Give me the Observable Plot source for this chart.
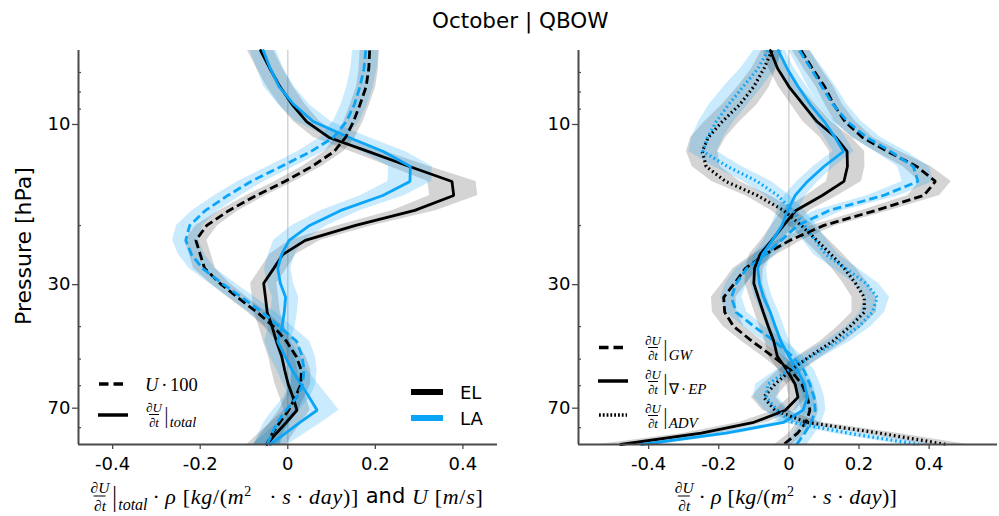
<!DOCTYPE html>
<html><head><meta charset="utf-8">
<script src="https://cdn.jsdelivr.net/npm/d3@7"></script>
<script src="https://cdn.jsdelivr.net/npm/@observablehq/plot@0.6"></script>
<style>
body{margin:0;background:#fff;}
#root{position:relative;width:999px;height:516px;overflow:hidden;font-family:"DejaVu Sans",sans-serif;color:#000;}
#root svg{position:absolute;top:0;}
.abs{position:absolute;white-space:nowrap;display:flex;align-items:center;line-height:1;}
.m{font-family:"Liberation Serif",serif;font-style:italic;}
.u{font-family:"Liberation Serif",serif;font-style:normal;}
.fr{display:inline-flex;flex-direction:column;align-items:center;line-height:1.0;}
.fr .d{border-top:1px solid #000;padding-top:1px;}
.op{margin:0 0.22em;font-family:"Liberation Serif",serif;font-style:normal;}
</style></head><body><div id="root"></div><script>
// ---------- data (pressure levels in hPa) ----------
const pressure = [6.02, 6.81, 7.71, 8.72, 9.80, 10.93, 12.03, 13.34, 14.78, 16.27, 18.03, 19.98, 22.14, 24.37, 26.83, 29.73, 32.73, 36.26, 39.92, 44.24, 49.03, 53.97, 59.41, 64.94, 71.0, 77.1, 83.1, 89.8];

// left panel: dU/dt|total * rho and U/100
const totalEL = [-0.062, -0.041, -0.018, 0.010, 0.043, 0.094, 0.183, 0.278, 0.375, 0.379, 0.290, 0.155, 0.040, -0.011, -0.032, -0.055, -0.051, -0.047, -0.036, -0.026, -0.014, -0.007, 0.001, 0.012, 0.021, -0.003, -0.026, -0.048];
const totalLA = [-0.056, -0.040, -0.020, 0.014, 0.058, 0.140, 0.218, 0.280, 0.279, 0.217, 0.121, 0.050, 0.003, -0.014, -0.023, -0.017, -0.005, -0.008, -0.013, -0.023, -0.006, 0.010, 0.030, 0.049, 0.067, 0.028, -0.005, -0.040];
const uEL = [0.187, 0.185, 0.179, 0.165, 0.150, 0.132, 0.106, 0.055, -0.007, -0.072, -0.134, -0.185, -0.210, -0.200, -0.190, -0.155, -0.115, -0.070, -0.033, -0.003, 0.019, 0.031, 0.030, 0.017, 0.002, -0.018, -0.035, -0.048];
const uLA = [0.178, 0.174, 0.165, 0.152, 0.134, 0.104, 0.053, -0.015, -0.084, -0.137, -0.188, -0.224, -0.233, -0.220, -0.195, -0.150, -0.105, -0.058, -0.020, 0.020, 0.033, 0.037, 0.034, 0.021, -0.004, -0.024, -0.036, -0.047];
const errTotalEL = [0.03, 0.03, 0.03, 0.03, 0.03, 0.035, 0.04, 0.045, 0.055, 0.055, 0.05, 0.04, 0.035, 0.03, 0.03, 0.03, 0.03, 0.03, 0.03, 0.03, 0.03, 0.03, 0.03, 0.03, 0.03, 0.035, 0.04, 0.045];
const errTotalLA = [0.03, 0.03, 0.035, 0.035, 0.04, 0.045, 0.05, 0.05, 0.05, 0.05, 0.045, 0.04, 0.035, 0.03, 0.03, 0.03, 0.03, 0.03, 0.03, 0.03, 0.035, 0.035, 0.04, 0.045, 0.05, 0.05, 0.045, 0.04];
const errUEL = [0.022, 0.022, 0.022, 0.022, 0.022, 0.022, 0.022, 0.022, 0.022, 0.022, 0.022, 0.025, 0.025, 0.025, 0.025, 0.022, 0.022, 0.022, 0.022, 0.022, 0.022, 0.022, 0.022, 0.022, 0.022, 0.022, 0.025, 0.03];
const errULA = [0.03, 0.03, 0.03, 0.03, 0.03, 0.03, 0.03, 0.03, 0.03, 0.03, 0.03, 0.03, 0.03, 0.03, 0.03, 0.03, 0.03, 0.03, 0.03, 0.03, 0.03, 0.03, 0.03, 0.03, 0.03, 0.03, 0.03, 0.03];

// right panel: GW, EP-flux divergence, advection
const gwEL = [0.035, 0.067, 0.102, 0.128, 0.160, 0.210, 0.281, 0.365, 0.418, 0.385, 0.248, 0.100, 0.003, -0.068, -0.124, -0.155, -0.186, -0.183, -0.158, -0.105, -0.046, 0.005, 0.037, 0.053, 0.060, 0.049, 0.025, -0.015];
const gwLA = [0.030, 0.063, 0.094, 0.126, 0.167, 0.222, 0.290, 0.355, 0.368, 0.270, 0.116, 0.025, -0.022, -0.067, -0.120, -0.150, -0.164, -0.150, -0.100, -0.041, 0.010, 0.043, 0.060, 0.072, 0.075, 0.064, 0.045, 0.022];
const epEL = [-0.053, -0.032, 0.000, 0.041, 0.080, 0.134, 0.166, 0.167, 0.157, 0.095, 0.020, -0.015, -0.049, -0.082, -0.098, -0.100, -0.087, -0.073, -0.059, -0.043, -0.033, -0.005, 0.018, 0.026, -0.010, -0.100, -0.250, -0.480];
const epLA = [-0.030, -0.005, 0.026, 0.061, 0.101, 0.132, 0.156, 0.100, 0.053, 0.018, -0.003, -0.020, -0.047, -0.075, -0.089, -0.084, -0.072, -0.053, -0.039, -0.023, 0.000, 0.024, 0.045, 0.053, 0.040, -0.015, -0.180, -0.420];
const advEL = [-0.048, -0.071, -0.100, -0.140, -0.190, -0.230, -0.247, -0.236, -0.180, -0.090, -0.015, 0.035, 0.080, 0.120, 0.158, 0.190, 0.215, 0.215, 0.175, 0.125, 0.060, 0.005, -0.040, -0.072, -0.040, 0.050, 0.260, 0.450];
const advLA = [-0.060, -0.088, -0.130, -0.172, -0.207, -0.232, -0.245, -0.175, -0.090, -0.032, 0.010, 0.045, 0.075, 0.105, 0.162, 0.220, 0.252, 0.238, 0.200, 0.140, 0.065, -0.002, -0.060, -0.065, -0.033, 0.010, 0.170, 0.370];
const errGwEL = [0.025, 0.025, 0.025, 0.025, 0.03, 0.03, 0.035, 0.04, 0.045, 0.045, 0.04, 0.035, 0.035, 0.035, 0.035, 0.035, 0.035, 0.035, 0.03, 0.03, 0.03, 0.03, 0.025, 0.025, 0.025, 0.025, 0.025, 0.025];
const errGwLA = [0.03, 0.035, 0.04, 0.04, 0.04, 0.04, 0.045, 0.045, 0.045, 0.045, 0.04, 0.035, 0.03, 0.03, 0.03, 0.03, 0.03, 0.03, 0.03, 0.03, 0.03, 0.03, 0.03, 0.03, 0.03, 0.03, 0.03, 0.03];
const errEpEL = [0.02, 0.025, 0.03, 0.035, 0.04, 0.045, 0.05, 0.05, 0.05, 0.045, 0.04, 0.035, 0.03, 0.03, 0.025, 0.025, 0.025, 0.025, 0.025, 0.025, 0.025, 0.025, 0.025, 0.025, 0.03, 0.04, 0.05, 0.06];
const errEpLA = [0.02, 0.02, 0.025, 0.025, 0.03, 0.03, 0.03, 0.03, 0.03, 0.03, 0.03, 0.03, 0.025, 0.025, 0.025, 0.025, 0.025, 0.025, 0.025, 0.025, 0.025, 0.025, 0.025, 0.025, 0.025, 0.03, 0.04, 0.05];
const errAdvEL = [0.03, 0.035, 0.045, 0.05, 0.05, 0.05, 0.045, 0.04, 0.04, 0.035, 0.035, 0.035, 0.035, 0.035, 0.035, 0.035, 0.035, 0.035, 0.035, 0.035, 0.035, 0.035, 0.035, 0.035, 0.035, 0.04, 0.05, 0.06];
const errAdvLA = [0.04, 0.05, 0.055, 0.055, 0.05, 0.045, 0.04, 0.04, 0.04, 0.035, 0.035, 0.035, 0.035, 0.035, 0.035, 0.035, 0.035, 0.035, 0.035, 0.035, 0.035, 0.035, 0.035, 0.035, 0.035, 0.035, 0.045, 0.05];

const xTicks = [-0.4, -0.2, 0, 0.2, 0.4];
const yTicks = [10, 30, 70];
const yMinor = [7, 8, 9, 20, 40, 50, 60, 80];
const yDomain = [6.02, 89.8];

// ---------- styling ----------
const BLACK = "#000000", BLUE = "#0ba5f8", AXIS = "#4a4a4a";
const DASH = "8.5,4", DOT = "1.7,2.9";

function rows(vals, errs) {
  return pressure.map((p, i) => ({p, v: vals[i], lo: vals[i] - errs[i], hi: vals[i] + errs[i]}));
}

function panel(series, xDomain) {
  const bands = series.map(s => Plot.areaX(rows(s.v, s.e), {
    y: "p", x1: "lo", x2: "hi", fill: s.color, fillOpacity: s.color === BLUE ? 0.22 : 0.17
  }));
  const lines = series.map(s => Plot.line(rows(s.v, s.e), {
    x: "v", y: "p", stroke: s.color, strokeWidth: s.dash === DOT ? 3.2 : 2.8,
    strokeDasharray: s.dash, strokeLinecap: s.dash ? "butt" : "round", strokeLinejoin: "miter"
  }));
  return Plot.plot({
    width: 500, height: 516,
    marginLeft: 78, marginRight: 3, marginTop: 50, marginBottom: 72,
    style: {fontFamily: "DejaVu Sans", fontSize: "18px", color: "#000", background: "transparent", overflow: "visible"},
    x: {domain: xDomain},
    y: {type: "log", domain: yDomain, reverse: true},
    marks: [
      Plot.ruleX([0], {stroke: "#d4d4d4", strokeWidth: 1.5}),
      ...bands,
      ...lines,
      Plot.axisX({ticks: xTicks, tickSize: 5, tickPadding: 8, stroke: AXIS, strokeWidth: 1.3,
        tickFormat: d => d === 0 ? "0" : d.toFixed(1), label: null}),
      Plot.axisY({ticks: yTicks, tickSize: 6, tickPadding: 2, stroke: AXIS, strokeWidth: 1.3,
        tickFormat: d => String(d), label: null}),
      Plot.tickY(yMinor, {y: d => d, insetRight: 416, stroke: AXIS, strokeWidth: 1.2}),
      Plot.ruleX([xDomain[0]], {stroke: AXIS, strokeWidth: 2}),
      Plot.ruleY([yDomain[1]], {stroke: AXIS, strokeWidth: 2})
    ]
  });
}

const root = document.getElementById("root");

const left = panel([
  {v: totalEL, e: errTotalEL, color: BLACK, dash: null},
  {v: totalLA, e: errTotalLA, color: BLUE, dash: null},
  {v: uEL, e: errUEL, color: BLACK, dash: DASH},
  {v: uLA, e: errULA, color: BLUE, dash: DASH}
], [-0.478, 0.479]);
left.style.left = "0px";
root.appendChild(left);

const right = panel([
  {v: gwEL, e: errGwEL, color: BLACK, dash: DASH},
  {v: gwLA, e: errGwLA, color: BLUE, dash: DASH},
  {v: epEL, e: errEpEL, color: BLACK, dash: null},
  {v: epLA, e: errEpLA, color: BLUE, dash: null},
  {v: advEL, e: errAdvEL, color: BLACK, dash: DOT},
  {v: advLA, e: errAdvLA, color: BLUE, dash: DOT}
], [-0.6, 0.595]);
right.style.left = "500px";
root.appendChild(right);

// ---------- legend swatches ----------
const ov = d3.select(root).append("svg").attr("width", 999).attr("height", 516).style("left", "0px");
function sw(x1, x2, y, color, w, dash) {
  ov.append("line").attr("x1", x1).attr("x2", x2).attr("y1", y).attr("y2", y)
    .attr("stroke", color).attr("stroke-width", w).attr("stroke-dasharray", dash || null);
}
sw(99, 124, 384, BLACK, 3.5, "9.5,5");
sw(98, 128, 415, BLACK, 3.5);
sw(411, 443, 392, BLACK, 6);
sw(411, 443, 418, BLUE, 6);
sw(599, 625, 347.5, BLACK, 3.5, "9.5,5");
sw(598, 628, 381, BLACK, 3.5);
sw(599, 627, 415, BLACK, 3.5, "1.8,2");

// ---------- text ----------
function place(html, x, y, transform, extra) {
  const d = document.createElement("div");
  d.className = "abs";
  d.innerHTML = html;
  d.style.left = x + "px";
  d.style.top = y + "px";
  d.style.transform = transform || "translateY(-50%)";
  if (extra) Object.assign(d.style, extra);
  root.appendChild(d);
  return d;
}
function frac(size) {
  return `<span class="fr m" style="font-size:${size}px"><span>∂U</span><span class="d">∂t</span></span>`;
}
function bar(size) {
  return `<span class="u" style="font-size:${size}px;margin:0 1px 0 2px;transform:scaleX(0.8)">|</span>`;
}
function sub(html, size, dy) {
  return `<span class="m" style="font-size:${size}px;position:relative;top:${dy}px">${html}</span>`;
}

place("October | QBOW", 432, 21, "translateY(-50%)", {fontSize: "21.5px"});
place("Pressure [hPa]", 24, 246, "translate(-50%,-50%) rotate(-90deg)", {fontSize: "22px"});

// left legend
place(`<span class="m" style="font-size:18.5px">U</span><span class="op" style="font-size:18.5px;margin:0 0.15em">·</span><span class="u" style="font-size:18.5px">100</span>`, 145, 385);
place(frac(13) + bar(24) + sub("total", 14.5, 7), 146, 415);
place("EL", 460, 392.5, null, {fontSize: "18px"});
place("LA", 460, 418.5, null, {fontSize: "18px"});

// right legend
place(frac(13) + bar(24) + sub("GW", 15, 7), 645, 348);
place(frac(13) + bar(24) + sub(`<span class="u">∇</span><span class="op" style="margin:0 0.15em">·</span>EP`, 15, 7), 645, 382);
place(frac(13) + bar(24) + sub("ADV", 15, 7), 645, 416);

// x-axis labels
function unit(ls) {
  return `<span class="m" style="font-size:22px;letter-spacing:${ls}px"><span class="op">·</span>ρ <span class="u">[</span>kg<span class="u">/(</span>m<sup style="font-size:14px;font-style:normal">2</sup>&nbsp;&nbsp;<span class="op">·</span>s<span class="op">·</span>day<span class="u">)]</span></span>`;
}
place(frac(15.5) + bar(29) + sub("total", 16, 8) + unit(0.7) +
      `<span style="font-size:21px">&nbsp;and&nbsp;</span><span class="m" style="font-size:22px;letter-spacing:0.7px">U <span class="u">[</span>m<span class="u">/</span>s<span class="u">]</span></span>`,
      287, 496, "translate(-50%,-50%)");
place(frac(15.5) + unit(0.3), 786, 496, "translate(-50%,-50%)");
</script></body></html>
